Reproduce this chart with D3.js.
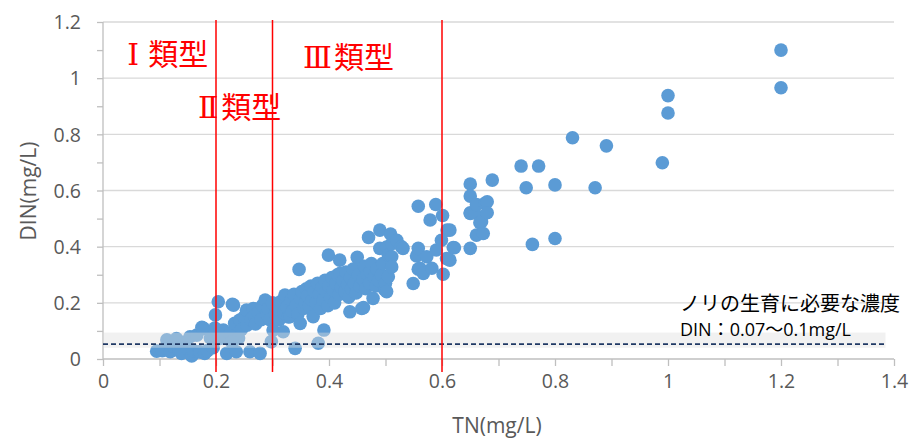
<!DOCTYPE html>
<html><head><meta charset="utf-8">
<script src="https://cdn.jsdelivr.net/npm/d3@7"></script>
<style>
html,body{margin:0;padding:0;background:#fff;}
svg{display:block;}
</style></head>
<body>
<svg id="chart" width="910" height="440"></svg>
<script>
// ---- data ----
const tn = [
 0.095,0.105,0.113,0.119,0.125,0.130,0.135,0.139,0.145,0.150,0.154,0.157,0.160,0.166,0.170,0.172,0.175,0.178,0.180,0.185,0.190,0.195,0.199,0.198,0.204,
 0.207,0.213,0.219,0.225,0.229,0.231,0.233,0.236,0.242,0.245,0.250,0.254,0.255,0.260,0.262,0.266,0.268,0.270,0.275,0.278,0.280,0.282,0.287,0.290,0.292,0.295,0.298,0.301,0.300,0.240,0.228,
 0.305,0.308,0.312,0.315,0.319,0.320,0.322,0.325,0.328,0.331,0.333,0.335,0.338,0.340,0.342,0.345,0.347,0.349,0.350,0.352,0.355,0.358,0.360,0.362,0.365,0.368,0.370,0.372,0.374,0.377,0.380,0.381,0.383,0.385,0.388,0.390,0.391,0.393,0.395,0.398,0.399,
 0.400,0.403,0.405,0.408,0.410,0.412,0.415,0.418,0.419,0.420,0.422,0.425,0.428,0.430,0.433,0.435,0.437,0.438,0.440,0.443,0.445,0.448,0.450,0.452,0.455,0.458,0.460,0.461,0.463,0.465,0.468,0.470,0.472,0.473,0.475,0.478,0.480,0.483,0.485,0.488,0.490,0.490,0.493,0.495,0.499,0.500,0.502,0.502,
 0.505,0.505,0.509,0.511,0.511,0.511,0.520,0.528,0.531,0.549,0.555,0.558,0.558,0.558,0.561,0.567,0.573,0.579,0.582,0.589,0.590,0.599,0.601,0.602,0.608,0.609,0.611,0.614,0.620,0.622,0.614,
 0.650,0.650,0.650,0.650,0.650,0.658,0.661,0.661,0.667,0.670,0.673,0.676,0.680,0.680,0.689,
 0.740,0.749,0.760,0.771,0.800,0.800,0.831,0.871,0.891,0.990,1.000,1.000,1.200,1.200
];
const din = [
 0.028,0.030,0.068,0.026,0.045,0.073,0.030,0.020,0.060,0.035,0.079,0.011,0.030,0.085,0.025,0.026,0.113,0.109,0.020,0.030,0.075,0.040,0.157,0.110,0.204,
 0.073,0.103,0.020,0.091,0.195,0.192,0.127,0.026,0.139,0.105,0.150,0.174,0.120,0.026,0.140,0.180,0.155,0.125,0.165,0.020,0.140,0.190,0.210,0.160,0.180,0.140,0.062,0.103,0.200,0.075,0.060,
 0.160,0.180,0.140,0.205,0.097,0.165,0.228,0.185,0.150,0.151,0.210,0.170,0.230,0.038,0.190,0.160,0.319,0.127,0.215,0.240,0.180,0.200,0.250,0.225,0.190,0.260,0.210,0.151,0.240,0.200,0.270,0.056,0.230,0.180,0.255,0.210,0.103,0.280,0.240,0.190,0.370,
 0.260,0.220,0.290,0.245,0.200,0.270,0.300,0.230,0.352,0.305,0.255,0.280,0.240,0.310,0.265,0.220,0.168,0.290,0.250,0.320,0.270,0.235,0.362,0.300,0.260,0.180,0.285,0.183,0.330,0.250,0.300,0.433,0.270,0.311,0.340,0.216,0.290,0.260,0.320,0.280,0.459,0.394,0.300,0.340,0.246,0.270,0.399,0.240,
 0.370,0.293,0.445,0.411,0.364,0.328,0.423,0.400,0.394,0.269,0.367,0.544,0.394,0.320,0.323,0.305,0.364,0.495,0.323,0.550,0.388,0.423,0.511,0.302,0.358,0.459,0.355,0.352,0.397,0.396,0.459,
 0.623,0.580,0.521,0.394,0.518,0.520,0.550,0.441,0.485,0.489,0.447,0.554,0.560,0.521,0.637,
 0.687,0.610,0.408,0.687,0.620,0.429,0.788,0.610,0.759,0.699,0.938,0.876,1.100,0.966
];
const xTickValues = [0,0.2,0.4,0.6,0.8,1,1.2,1.4];
const xTickLabels = ["0","0.2","0.4","0.6","0.8","1","1.2","1.4"];
const xMinorTicks = [0,0.1,0.2,0.3,0.4,0.5,0.6,0.7,0.8,0.9,1.0,1.1,1.2,1.3,1.4];
const yTickValues = [0,0.2,0.4,0.6,0.8,1,1.2];
const yTickLabels = ["0","0.2","0.4","0.6","0.8","1","1.2"];
const yMinorTicks = [0,0.1,0.2,0.3,0.4,0.5,0.6,0.7,0.8,0.9,1.0,1.1,1.2];
const typeBoundaries = [0.2,0.3,0.6];
const typeLabels = [
  {num:"Ⅰ", rest:"類型", gap:9, tn:0.043, din:1.088},
  {num:"Ⅱ", rest:"類型", gap:3, tn:0.168, din:0.9},
  {num:"Ⅲ", rest:"類型", gap:2, tn:0.354, din:1.078}
];
const bandRange = [0.040, 0.094];   // gray band
const dashedLevel = 0.053;          // dashed line
const bandEnd = 1.385;
const noteLines = ["ノリの生育に必要な濃度", "DIN：0.07～0.1mg/L"];

// ---- drawing ----
const svg = d3.select("#chart");
const x = d3.scaleLinear().domain([0,1.4]).range([103,894]);
const y = d3.scaleLinear().domain([0,1.2]).range([359,22]);
const latin = "'Open Sans', 'Noto Sans CJK JP', sans-serif";
const cjk = "'Noto Sans CJK JP', sans-serif";
const grey = "#595959";

// gridlines
svg.append("g").selectAll("line").data(yTickValues.filter(v=>v>0)).join("line")
  .attr("x1", x(0)).attr("x2", x(1.4)).attr("y1", d=>y(d)).attr("y2", d=>y(d))
  .attr("stroke", "#D9D9D9").attr("stroke-width", 1.3);

// minor ticks axes
const yMinor = svg.append("g").attr("transform", `translate(${x(0)},0)`)
  .call(d3.axisLeft(y).tickValues(yMinorTicks).tickSize(6).tickFormat(""));
const xMinor = svg.append("g").attr("transform", `translate(0,${y(0)})`)
  .call(d3.axisBottom(x).tickValues(xMinorTicks).tickSize(7).tickFormat(""));
[yMinor, xMinor].forEach(g=>{
  g.selectAll("path").attr("stroke","#BFBFBF").attr("stroke-width",1.3);
  g.selectAll("line").attr("stroke","#BFBFBF").attr("stroke-width",1.3);
});
yMinor.select("path").attr("d", `M0,${y(1.2)}V${y(0)}`);
xMinor.select("path").attr("d", `M${x(0)},0H${x(1.4)}`);

// tick labels via axes
const yAx = svg.append("g").attr("transform", `translate(81,0)`)
  .call(d3.axisLeft(y).tickValues(yTickValues).tickSize(0).tickPadding(0)
        .tickFormat((d,i)=>yTickLabels[i]));
yAx.select("path").remove();
yAx.selectAll("text").attr("font-family", latin).attr("font-size", 19.5).attr("fill", grey).attr("dy","0.35em").attr("x",0);

const xAx = svg.append("g").attr("transform", `translate(0,374)`)
  .call(d3.axisBottom(x).tickValues(xTickValues).tickSize(0).tickPadding(0)
        .tickFormat((d,i)=>xTickLabels[i]));
xAx.select("path").remove();
xAx.selectAll("text").attr("font-family", latin).attr("font-size", 19.5).attr("fill", grey).attr("dy","0.71em").attr("y",0);

// points
const pts = tn.map((t,i)=>({tn:t, din:din[i]}));
svg.append("g").selectAll("circle").data(pts).join("circle")
  .attr("cx", d=>x(d.tn)).attr("cy", d=>y(d.din)).attr("r", 6.8)
  .attr("fill", "#5B9BD5");

// band
svg.append("rect")
  .attr("x", x(0)).attr("width", x(bandEnd)-x(0))
  .attr("y", y(bandRange[1])).attr("height", y(bandRange[0])-y(bandRange[1]))
  .attr("fill", "#DEDEDE").attr("fill-opacity", 0.42);

// dashed line
svg.append("line")
  .attr("x1", x(0)).attr("x2", x(bandEnd)).attr("y1", y(dashedLevel)).attr("y2", y(dashedLevel))
  .attr("stroke", "#1F3864").attr("stroke-width", 1.6).attr("stroke-dasharray", "5,3");

// red boundaries
svg.append("g").selectAll("line").data(typeBoundaries).join("line")
  .attr("x1", d=>x(d)).attr("x2", d=>x(d)).attr("y1", 20).attr("y2", 372)
  .attr("stroke", "#FF0000").attr("stroke-width", 1.5);

// type labels
const tl = svg.append("g").selectAll("text").data(typeLabels).join("text")
  .attr("x", d=>x(d.tn)).attr("y", d=>y(d.din))
  .attr("dy", "0.38em")
  .attr("font-family", cjk).attr("font-size", 30).attr("fill", "#FF0000");
tl.append("tspan").attr("font-family", "'DejaVu Serif', serif").attr("font-size", 30).text(d=>d.num);
tl.append("tspan").attr("dx", d=>d.gap).text(d=>d.rest);

// note
svg.append("text").attr("x", 680).attr("y", 303).attr("dy","0.38em")
  .attr("font-family", cjk).attr("font-size", 20).attr("fill", "#000")
  .text(noteLines[0]);
svg.append("text").attr("x", 680).attr("y", 330).attr("dy","0.36em")
  .attr("font-family", latin).attr("font-size", 18).attr("fill", "#000")
  .text(noteLines[1]);

// axis titles
svg.append("text").attr("transform", "translate(28,191) rotate(-90)")
  .attr("text-anchor","middle").attr("dy","0.36em")
  .attr("font-family", latin).attr("font-size", 21).attr("fill", grey)
  .text("DIN(mg/L)");
svg.append("text").attr("x", 497).attr("y", 425).attr("dy","0.36em")
  .attr("text-anchor","middle")
  .attr("font-family", latin).attr("font-size", 21).attr("fill", grey)
  .text("TN(mg/L)");
</script>
</body></html>
